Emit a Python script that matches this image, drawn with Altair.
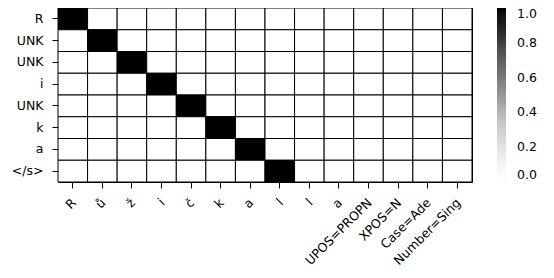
import json
import altair as alt
import pandas as pd

row_labels = ["R", "UNK", "UNK", "i", "UNK", "k", "a", "</s>"]
col_labels = ["R", "ů", "ž", "i", "č", "k", "a", "l", "l", "a",
              "UPOS=PROPN", "XPOS=N", "Case=Ade", "Number=Sing"]

row0 = [1, 0, 0, 0, 0, 0, 0, 0, 0, 0, 0, 0, 0, 0]
row1 = [0, 1, 0, 0, 0, 0, 0, 0, 0, 0, 0, 0, 0, 0]
row2 = [0, 0, 1, 0, 0, 0, 0, 0, 0, 0, 0, 0, 0, 0]
row3 = [0, 0, 0, 1, 0, 0, 0, 0, 0, 0, 0, 0, 0, 0]
row4 = [0, 0, 0, 0, 1, 0, 0, 0, 0, 0, 0, 0, 0, 0]
row5 = [0, 0, 0, 0, 0, 1, 0, 0, 0, 0, 0, 0, 0, 0]
row6 = [0, 0, 0, 0, 0, 0, 1, 0, 0, 0, 0, 0, 0, 0]
row7 = [0, 0, 0, 0, 0, 0, 0, 1, 0, 0, 0, 0, 0, 0]
weights = [row0, row1, row2, row3, row4, row5, row6, row7]

colorbar_ticks = [0.0, 0.2, 0.4, 0.6, 0.8, 1.0]
greys = ["#ffffff", "#f0f0f0", "#d9d9d9", "#bdbdbd", "#969696",
         "#737373", "#525252", "#252525", "#000000"]

records = []
for r, row in enumerate(weights):
    for c, v in enumerate(row):
        records.append({"row": r, "col": c, "value": v})
df = pd.DataFrame(records)

FONT = "DejaVu Sans"
FS = 12.5

x_expr = json.dumps(col_labels, ensure_ascii=False) + "[datum.value]"
y_expr = json.dumps(row_labels, ensure_ascii=False) + "[datum.value]"

chart = alt.Chart(df).mark_rect(stroke="black", strokeWidth=1).encode(
    x=alt.X("col:O", title=None, sort=list(range(len(col_labels))),
            scale=alt.Scale(paddingInner=0, paddingOuter=0),
            axis=alt.Axis(labelExpr=x_expr, labelAngle=-45, labelAlign="right",
                          labelBaseline="top", labelFontSize=FS, labelFont=FONT,
                          labelColor="black", tickColor="black", tickSize=6,
                          labelPadding=8, labelOffset=-3, domain=False, grid=False)),
    y=alt.Y("row:O", title=None, sort=list(range(len(row_labels))),
            scale=alt.Scale(paddingInner=0, paddingOuter=0),
            axis=alt.Axis(labelExpr=y_expr, labelFontSize=FS, labelFont=FONT,
                          labelColor="black", tickColor="black", tickSize=6,
                          labelPadding=9, domain=False, grid=False)),
    color=alt.Color("value:Q",
                    scale=alt.Scale(range=greys, domain=[0, 1]),
                    legend=alt.Legend(orient="none", legendX=439, legendY=0,
                                      direction="vertical", title=None,
                                      gradientLength=174, gradientThickness=9,
                                      gradientStrokeWidth=0,
                                      values=colorbar_ticks, format=".1f",
                                      labelFontSize=FS, labelFont=FONT,
                                      labelColor="black", labelOffset=11)),
).properties(
    width=414, height=174,
    autosize=alt.AutoSizeParams(type="none"),
    padding={"left": 50, "top": 0, "right": 74, "bottom": 88},
).configure_view(stroke="black", strokeWidth=1)

chart.save("out.html", embed_options={"renderer": "svg", "actions": False})
